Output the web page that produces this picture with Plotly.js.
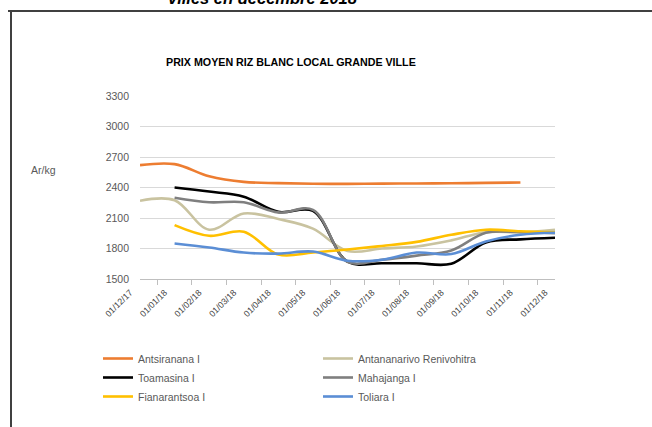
<!DOCTYPE html>
<html>
<head>
<meta charset="utf-8">
<script src="https://cdn.plot.ly/plotly-3.0.1.min.js"></script>
<style>
  html, body { margin: 0; padding: 0; background: #ffffff; }
  #chart { width: 652px; height: 427px; }
</style>
</head>
<body>
<div id="chart"></div>
<script>
// ---- Data ----
const months = ["01/12/17", "01/01/18", "01/02/18", "01/03/18", "01/04/18", "01/05/18", "01/06/18",
                "01/07/18", "01/08/18", "01/09/18", "01/10/18", "01/11/18", "01/12/18"];

const antsiranana  = [2620, 2630, 2510, 2455, 2443, 2437, 2436, 2438, 2440, 2442, 2445, 2449, null];
const antananarivo = [2270, 2275, 1985, 2145, 2090, 1995, 1775, 1800, 1820, 1880, 1960, 1960, 1985];
const toamasina    = [null, 2400, 2360, 2310, 2160, 2170, 1670, 1655, 1655, 1650, 1860, 1890, 1905];
const mahajanga    = [null, 2300, 2255, 2255, 2155, 2180, 1670, 1690, 1730, 1780, 1955, 1960, 1950];
const fianarantsoa = [null, 2030, 1925, 1965, 1740, 1760, 1790, 1825, 1865, 1935, 1985, 1970, 1960];
const toliara      = [null, 1850, 1810, 1760, 1750, 1770, 1680, 1690, 1760, 1745, 1870, 1935, 1955];

const seriesNames = ["Antsiranana I", "Antananarivo Renivohitra", "Toamasina I", "Mahajanga I", "Fianarantsoa I", "Toliara I"];
const seriesValues = [antsiranana, antananarivo, toamasina, mahajanga, fianarantsoa, toliara];
const seriesColors = ["#ED7D31", "#C9C3A0", "#000000", "#7F7F7F", "#FFC000", "#5B8ED5"];

const yTicks = [1500, 1800, 2100, 2400, 2700, 3000, 3300];

const chartTitle = "PRIX MOYEN RIZ BLANC LOCAL GRANDE VILLE";
const topCaption = "villes en décembre 2018";
const unitLabel = "Ar/kg";

// ---- Layout geometry ----
const W = 652, H = 427;
const M = { l: 140, r: 97, t: 96, b: 148 };
const pw = W - M.l - M.r, ph = H - M.t - M.b;
const px = x => (x - M.l) / pw;          // pixel -> paper x
const py = y => (H - M.b - y) / ph;      // pixel -> paper y

const traces = seriesNames.map((name, i) => ({
  type: "scatter",
  mode: "lines",
  name: name,
  x: months,
  y: seriesValues[i],
  line: { color: seriesColors[i], width: 2.6, shape: "spline", smoothing: 1 },
  connectgaps: false,
  hoverinfo: "x+y+name"
}));

const layout = {
  width: W, height: H,
  margin: M,
  paper_bgcolor: "#ffffff",
  plot_bgcolor: "#ffffff",
  font: { family: "Arial, 'Liberation Sans', sans-serif", color: "#595959", size: 10 },
  showlegend: true,
  legend: {
    orientation: "h",
    x: px(98), y: py(344), xanchor: "left", yanchor: "top",
    entrywidth: 175,
    font: { size: 10.5, color: "#595959" },
    bgcolor: "rgba(0,0,0,0)",
    tracegroupgap: 0
  },
  xaxis: {
    type: "category",
    tickangle: -45,
    tickson: "boundaries",
    ticks: "outside",
    ticklen: 5,
    tickcolor: "#BFBFBF",
    showline: true,
    linecolor: "#BFBFBF",
    linewidth: 1,
    showgrid: false,
    zeroline: false,
    ticklabelshift: -10,
    ticklabelstandoff: 4,
    tickfont: { size: 8.8, color: "#404040" },
    fixedrange: true
  },
  yaxis: {
    range: [1500, 3300],
    tickvals: yTicks,
    ticktext: yTicks.map(String),
    showgrid: true,
    gridcolor: "#D9D9D9",
    gridwidth: 1,
    zeroline: false,
    showline: false,
    ticks: "",
    ticklabelstandoff: 10,
    tickfont: { size: 10.5, color: "#595959" },
    fixedrange: true
  },
  annotations: [
    {
      text: chartTitle, xref: "paper", yref: "paper",
      x: px(164), y: py(62), xanchor: "left", yanchor: "middle",
      showarrow: false,
      font: { size: 10.7, color: "#000000", family: "Arial, 'Liberation Sans', sans-serif", weight: "bold" }
    },
    {
      text: unitLabel, xref: "paper", yref: "paper",
      x: px(29), y: py(170), xanchor: "left", yanchor: "middle",
      showarrow: false,
      font: { size: 10.5, color: "#595959" }
    },
    {
      text: "<b><i>" + topCaption + "</i></b>", xref: "paper", yref: "paper",
      x: px(263), y: py(-2), xanchor: "center", yanchor: "middle",
      showarrow: false,
      font: { size: 16.5, color: "#000000" }
    }
  ],
  shapes: [
    { type: "line", xref: "paper", yref: "paper", x0: px(8), x1: px(652), y0: py(11), y1: py(11),
      line: { color: "#404040", width: 2 } },
    { type: "line", xref: "paper", yref: "paper", x0: px(11), x1: px(11), y0: py(11), y1: py(427),
      line: { color: "#404040", width: 2 } }
  ]
};

Plotly.newPlot("chart", traces, layout, { displayModeBar: false, staticPlot: true });
</script>
</body>
</html>
